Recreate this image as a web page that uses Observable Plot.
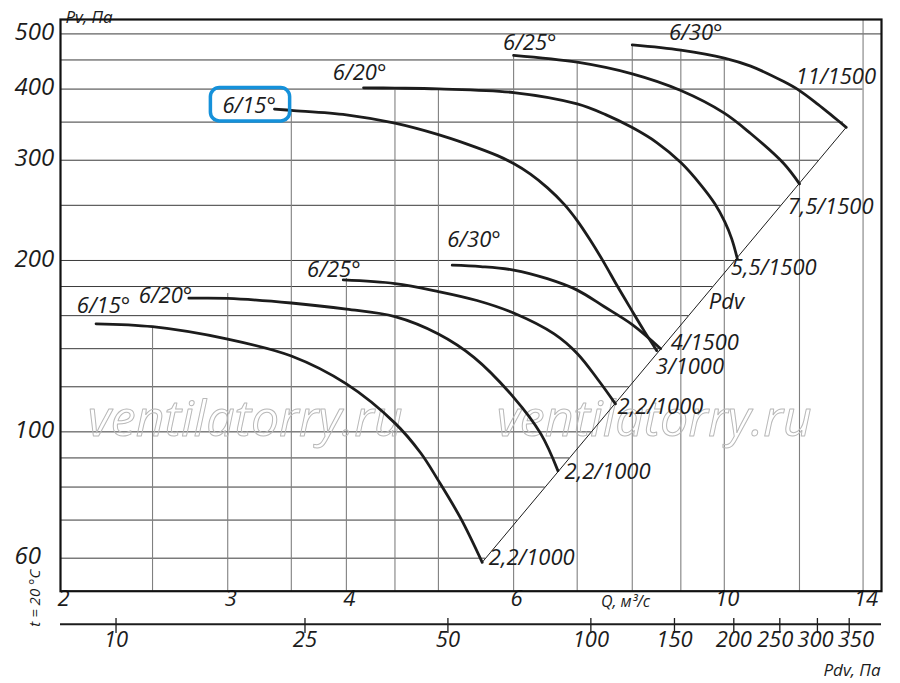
<!DOCTYPE html>
<html>
<head>
<meta charset="utf-8">
<script src="https://cdn.jsdelivr.net/npm/d3@7"></script>
<script src="https://cdn.jsdelivr.net/npm/@observablehq/plot@0.6"></script>
<style>
  html, body { margin: 0; padding: 0; background: #fff; }
  #chart { width: 900px; height: 683px; }
</style>
</head>
<body>
<div id="chart"></div>
<script>
// ---------- data ----------
// Fan curves, 1500 rpm (blade angle 15/20/25/30°), Q in m³/s, Pv in Pa
const q1500_15 = [3.36, 3.5, 4.0, 4.5, 5.0, 5.36, 5.77, 6.0, 6.25, 6.51, 6.78, 7.0, 7.23, 7.47, 7.71, 7.97, 8.23, 8.49];
const p1500_15 = [369, 367, 360.5, 348.5, 332.7, 320.2, 305.6, 296, 283.6, 268.5, 251.2, 235, 216.8, 198.3, 180.7, 164.6, 150.6, 138.9];
const q1500_20 = [4.17, 4.5, 5.0, 6.0, 7.0, 7.5, 8.0, 8.49, 9.0, 9.44, 9.77, 10.01, 10.18, 10.32];
const p1500_20 = [402, 401.5, 400.3, 394.4, 376.7, 360.7, 342.3, 322.2, 297.2, 271.9, 251.8, 234.0, 218.5, 201.6];
const q1500_25 = [6.0, 7.0, 8.0, 9.0, 10.0, 10.66, 11.55, 12.0];
const p1500_25 = [458.5, 445.9, 425.3, 397.6, 362.9, 334.2, 296.0, 272.6];
const q1500_30 = [8.0, 9.0, 10.0, 10.66, 11.55, 12.0, 12.54, 13.04, 13.44];
const p1500_30 = [478.2, 468.2, 453.5, 438.9, 412.3, 397.6, 376.5, 357.2, 342.7];
// Fan curves, 1000 rpm
const q1000_15 = [2.18, 2.5, 3.0, 3.5, 4.0, 4.5, 4.79, 5.0, 5.28, 5.56];
const p1000_15 = [154.8, 153.0, 145.5, 135.9, 121.4, 103.6, 91.8, 82.1, 70.4, 59.0];
const q1000_20 = [2.73, 3.0, 3.5, 4.0, 4.5, 5.0, 5.45, 6.0, 6.41, 6.68];
const p1000_20 = [171.7, 171.6, 168.4, 164.3, 159.4, 148.6, 135.2, 115.0, 99.2, 85.5];
const q1000_25 = [3.97, 4.5, 5.0, 5.49, 6.0, 6.62, 7.0, 7.36, 7.68];
const p1000_25 = [184.9, 182.2, 176.4, 170.1, 161.7, 148.6, 137.3, 123.6, 112.0];
const q1000_30 = [5.17, 5.54, 6.0, 6.51, 7.0, 7.47, 8.0, 8.57];
const p1000_30 = [196.2, 195.1, 192.4, 185.8, 177.4, 166.0, 154.3, 140.0];

// Curve labels (blade angle at curve start, motor kW/rpm at curve end)
const startLabels = [
  {text: "6/15°", q: 3.16, p: 374.2},
  {text: "6/20°", q: 4.13, p: 426.7},
  {text: "6/25°", q: 6.24, p: 481.8},
  {text: "6/30°", q: 9.33, p: 502.9},
  {text: "6/15°", q: 2.22, p: 166.7},
  {text: "6/20°", q: 2.58, p: 173.6},
  {text: "6/25°", q: 3.88, p: 192.8},
  {text: "6/30°", q: 5.45, p: 217.7}
];
const endLabels = [
  {text: "11/1500", q: 11.89, p: 420.7},
  {text: "7,5/1500", q: 11.66, p: 248.7},
  {text: "5,5/1500", q: 10.16, p: 194.0},
  {text: "Pdv", q: 9.63, p: 169.3},
  {text: "4/1500", q: 8.78, p: 143.2},
  {text: "3/1000", q: 8.47, p: 130.2},
  {text: "2,2/1000", q: 7.72, p: 110.8},
  {text: "2,2/1000", q: 6.79, p: 85.2},
  {text: "2,2/1000", q: 5.65, p: 60.0}
];
const highlight = {q1: 2.88, q2: 3.49, p1: 351, p2: 401.6};

// Axes / grid
const qDomain = [2, 14.64];
const pDomain = [52.5, 530];
const xTicks = [2, 3, 4, 6, 10, 14];
const yTicks = [60, 100, 200, 300, 400, 500];
const gridQ = [2.5, 3, 3.5, 4, 4.5, 5, 6, 7, 8, 9, 10, 12, 14];
const gridTopP = [153, 175, 367, 186, 401.5, 400.3, 458.5, 446, 478, 468, 453.5, 398, null];
const gridP = [60, 70, 80, 90, 100, 120, 140, 160, 180, 200, 250, 300, 350, 400, 450, 500];
const topGridP = [350, 400, 450, 500];
const topGridEndQ = [13.35, 14, 10.1, 14.64];
const pdvTicks = [10, 25, 50, 100, 150, 200, 250, 300, 350];
const outletArea = 0.5605;  // m²
const airDensity = 1.2;     // kg/m³ at t = 20 °C
const watermarkQ = [3.13, 8.44];

// ---------- derived ----------
const curveDefs = [
  ["1000-15", q1000_15, p1000_15], ["1000-20", q1000_20, p1000_20],
  ["1000-25", q1000_25, p1000_25], ["1000-30", q1000_30, p1000_30],
  ["1500-15", q1500_15, p1500_15], ["1500-20", q1500_20, p1500_20],
  ["1500-25", q1500_25, p1500_25], ["1500-30", q1500_30, p1500_30]
];
const curveRows = curveDefs.flatMap(([id, qs, ps]) => qs.map((q, i) => ({id, q, p: ps[i]})));
const diagFrom = {q: q1000_15[q1000_15.length - 1], p: p1000_15[p1000_15.length - 1]};
const diagTo = {q: q1500_30[q1500_30.length - 1], p: p1500_30[p1500_30.length - 1]};
const diagExp = Math.log(diagTo.q / diagFrom.q) / Math.log(diagTo.p / diagFrom.p);
const diagQ = p => diagFrom.q * Math.pow(p / diagFrom.p, diagExp);
const hEnd = p => p <= diagTo.p ? diagQ(p) : topGridEndQ[topGridP.indexOf(p)];
const pdvToQ = pdv => outletArea * Math.sqrt(2 * pdv / airDensity);

const W = 900, H = 683, mL = 60, mR = 19, mT = 19, mB = 92.3;
const frameH = H - mT - mB;
const ink = "#1c1c1c";
const font = "'Open Sans', 'Noto Sans', 'DejaVu Sans', sans-serif";

const chart = Plot.plot({
  width: W, height: H,
  marginLeft: mL, marginRight: mR, marginTop: mT, marginBottom: mB,
  x: {type: "log", domain: qDomain, axis: null},
  y: {type: "log", domain: pDomain, axis: null},
  style: {fontFamily: font, background: "white", color: ink},
  marks: [
    // grid
    Plot.ruleY(gridP, {y: d => d, x1: qDomain[0], x2: d => hEnd(d), stroke: "#3a3a3a", strokeWidth: 1}),
    Plot.ruleX(gridQ, {x: d => d, y1: pDomain[0], y2: (d, i) => gridTopP[i] ?? pDomain[1], stroke: "#808080", strokeWidth: 1.1}),
    // watermark
    Plot.text(watermarkQ, {x: d => d, text: () => "ventilatorry.ru", frameAnchor: "middle", dy: 115,
      fontSize: 50, fontStyle: "italic", fill: "none", stroke: "#b8b8b8", strokeWidth: 1}),
    // Pdv line through curve ends
    Plot.line([diagFrom, diagTo], {x: "q", y: "p", stroke: ink, strokeWidth: 1}),
    // curves
    Plot.line(curveRows, {x: "q", y: "p", z: "id", curve: "catmull-rom", stroke: ink, strokeWidth: 2.8}),
    // curve labels
    Plot.text(startLabels, {x: "q", y: "p", text: "text", fontSize: 22, fontStyle: "italic", fill: ink}),
    Plot.text(endLabels, {x: "q", y: "p", text: "text", textAnchor: "start", fontSize: 22, fontStyle: "italic", fill: ink}),
    // y tick labels
    Plot.text(yTicks, {y: d => d, text: d => String(d), frameAnchor: "left", textAnchor: "start", dx: -46, dy: -1.5,
      fontSize: 24, fontStyle: "italic", fill: ink}),
    // x tick labels
    Plot.text(xTicks, {x: d => d, text: d => String(d), frameAnchor: "bottom", dx: 3, dy: 14.5,
      fontSize: 22, fontStyle: "italic", fill: ink}),
    Plot.text(["Q, м³/с"], {text: d => d, frameAnchor: "bottom-right", textAnchor: "middle", dx: -256, dy: 15.3,
      fontSize: 16, fontStyle: "italic", fill: ink}),
    Plot.text(["Pv, Па"], {text: d => d, frameAnchor: "top-left", textAnchor: "start", dx: 5, dy: -9,
      fontSize: 17, fontStyle: "italic", fill: ink}),
    // Pdv axis
    Plot.ruleY([pDomain[0]], {dy: 33, stroke: ink, strokeWidth: 2}),
    Plot.ruleX(pdvTicks, {x: pdvToQ, insetTop: frameH - 15, dy: 42.3, stroke: ink, strokeWidth: 1.3}),
    Plot.text(pdvTicks, {x: pdvToQ, text: d => String(d), frameAnchor: "bottom", dy: 56,
      fontSize: 22, fontStyle: "italic", fill: ink, className: "pdv-labels"}),
    Plot.text(["Pdv, Па"], {text: d => d, frameAnchor: "bottom-right", textAnchor: "end", dx: -1, dy: 84.5,
      fontSize: 17, fontStyle: "italic", fill: ink}),
    Plot.text(["t = 20 °C"], {text: d => d, frameAnchor: "bottom-left", rotate: -90, dx: -21, dy: 35.5,
      fontSize: 15, fontStyle: "italic", fill: ink}),
    // highlight box
    Plot.rect([highlight], {x1: "q1", x2: "q2", y1: "p1", y2: "p2", rx: 9, fill: "none", stroke: "#1591da", strokeWidth: 3.5}),
    Plot.frame({stroke: "#111", strokeWidth: 2.2})
  ]
});
document.getElementById("chart").append(chart);

// spread the crowded Pdv tick labels so they do not overlap
(function spreadLabels() {
  const texts = [...chart.querySelectorAll("g.pdv-labels text")];
  const boxes = texts.map(t => {
    const r = t.getBoundingClientRect();
    return {t, x: r.left, w: r.width, s: 0};
  }).sort((a, b) => a.x - b.x);
  const gap = 4;
  for (let k = 0; k < 200; k++) {
    let moved = false;
    for (let i = 1; i < boxes.length; i++) {
      const a = boxes[i - 1], b = boxes[i];
      const ov = (a.x + a.s + a.w + gap) - (b.x + b.s);
      if (ov > 0.05) { a.s -= ov / 2; b.s += ov / 2; moved = true; }
    }
    if (!moved) break;
  }
  boxes.forEach(b => {
    if (Math.abs(b.s) > 0.05) b.t.setAttribute("transform", `translate(${b.s.toFixed(2)},0) ${b.t.getAttribute("transform") || ""}`);
  });
})();
</script>
</body>
</html>
